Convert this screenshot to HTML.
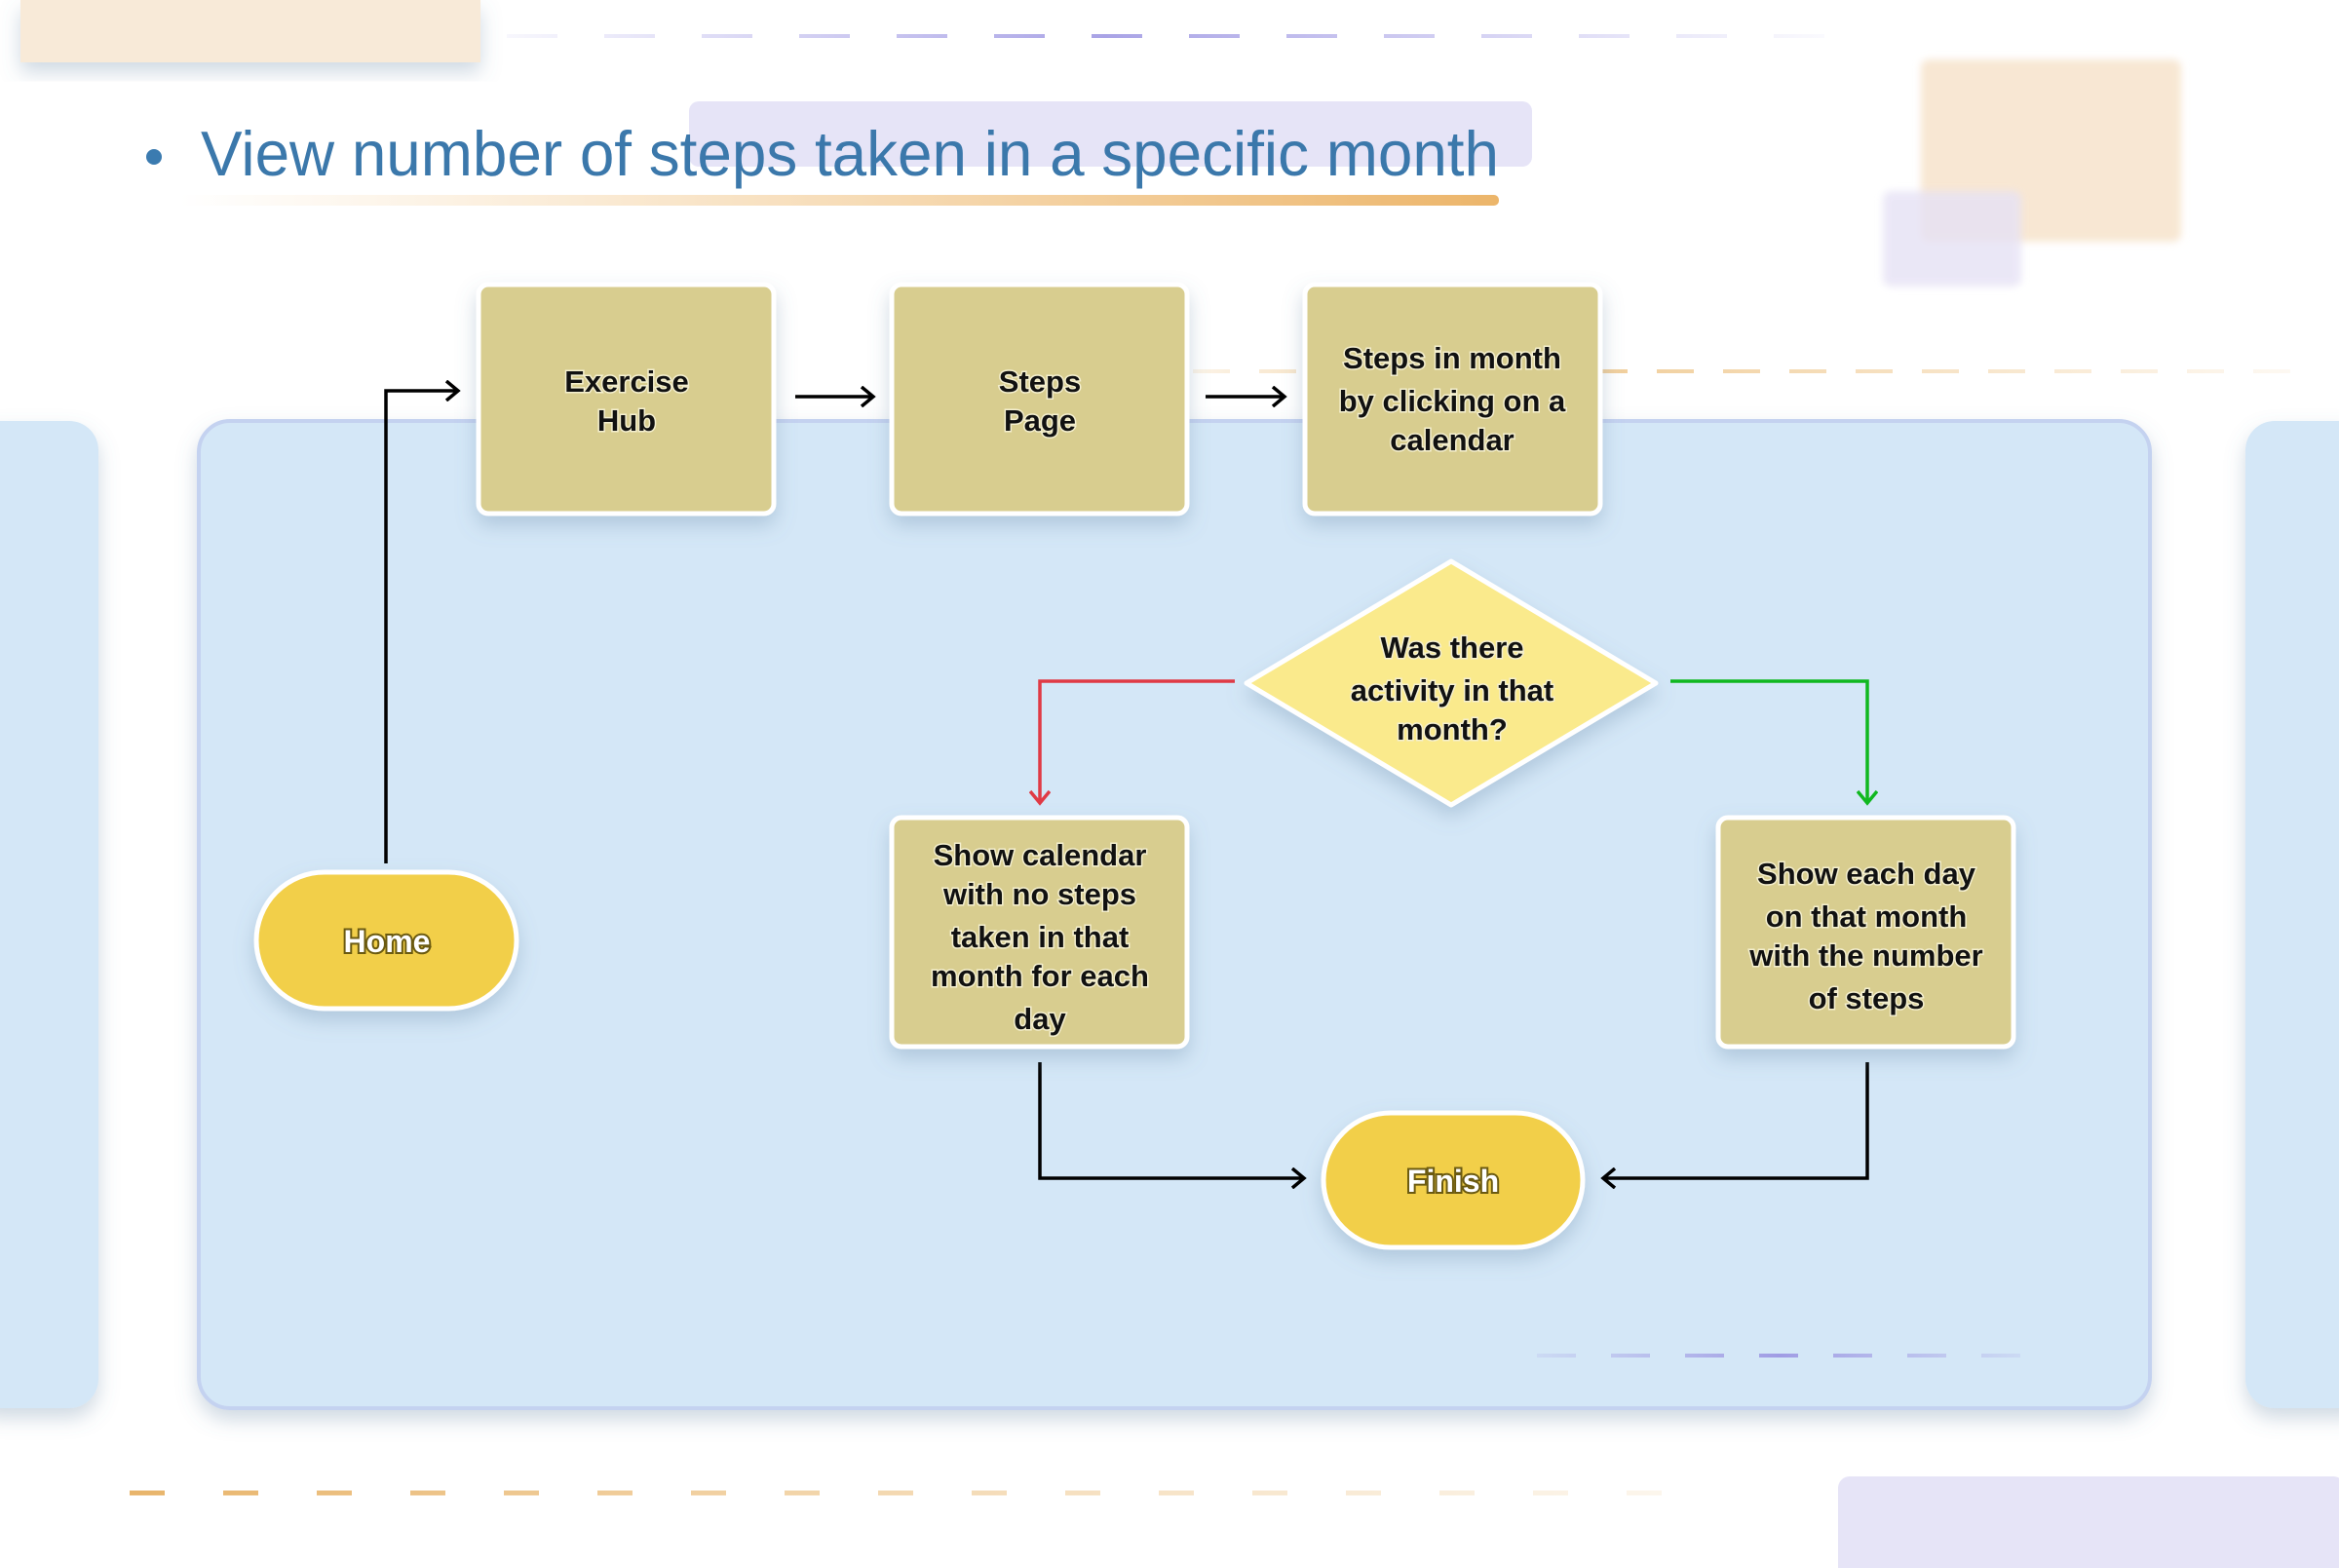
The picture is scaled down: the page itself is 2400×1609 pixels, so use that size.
<!DOCTYPE html>
<html><head><meta charset="utf-8"><style>
html,body{margin:0;padding:0;background:#fff;}
svg{display:block;}
.t{font-family:"Liberation Sans",sans-serif;font-size:31px;font-weight:bold;fill:#111;text-anchor:middle;paint-order:stroke;stroke:#f4efcf;stroke-width:3px;}
.w{font-family:"Liberation Sans",sans-serif;font-size:32px;font-weight:bold;fill:#fff;text-anchor:middle;paint-order:stroke;stroke:#6b5a10;stroke-width:4px;}
</style></head><body>
<svg width="2400" height="1609" viewBox="0 0 2400 1609" xmlns="http://www.w3.org/2000/svg">
<defs>
<filter id="sh" x="-20%" y="-20%" width="140%" height="150%"><feDropShadow dx="0" dy="10" stdDeviation="10" flood-color="#6080a0" flood-opacity="0.3"/></filter>
<filter id="bl" x="-20%" y="-20%" width="140%" height="140%"><feGaussianBlur stdDeviation="4"/></filter>
<linearGradient id="ug" x1="0" x2="1"><stop offset="0" stop-color="#f1c07a" stop-opacity="0"/><stop offset="1" stop-color="#ecb56a"/></linearGradient>
<linearGradient id="gp" gradientUnits="userSpaceOnUse" x1="520" x2="1883" y1="0" y2="0"><stop offset="0" stop-color="#b3aeea" stop-opacity="0.1"/><stop offset="0.45" stop-color="#a9a3e6" stop-opacity="1"/><stop offset="1" stop-color="#b3aeea" stop-opacity="0.05"/></linearGradient>
<linearGradient id="go" gradientUnits="userSpaceOnUse" x1="1224" x2="2357" y1="0" y2="0"><stop offset="0" stop-color="#eec486" stop-opacity="0.2"/><stop offset="0.3" stop-color="#eec486" stop-opacity="0.9"/><stop offset="1" stop-color="#eec486" stop-opacity="0.1"/></linearGradient>
<linearGradient id="gb" gradientUnits="userSpaceOnUse" x1="133" x2="1714" y1="0" y2="0"><stop offset="0" stop-color="#e8b46a" stop-opacity="1"/><stop offset="1" stop-color="#eec486" stop-opacity="0.15"/></linearGradient>
<linearGradient id="gq" gradientUnits="userSpaceOnUse" x1="1577" x2="2074" y1="0" y2="0"><stop offset="0" stop-color="#aaa6e6" stop-opacity="0.2"/><stop offset="0.5" stop-color="#a09ce4" stop-opacity="1"/><stop offset="1" stop-color="#aaa6e6" stop-opacity="0.2"/></linearGradient>
<marker id="ab" markerWidth="20" markerHeight="22" refX="14" refY="11" orient="auto" markerUnits="userSpaceOnUse"><path d="M2,1 L14,11 L2,21" fill="none" stroke="#000" stroke-width="3.5"/></marker>
<marker id="ar" markerWidth="20" markerHeight="22" refX="14" refY="11" orient="auto" markerUnits="userSpaceOnUse"><path d="M2,1 L14,11 L2,21" fill="none" stroke="#e03a45" stroke-width="3.5"/></marker>
<marker id="ag" markerWidth="20" markerHeight="22" refX="14" refY="11" orient="auto" markerUnits="userSpaceOnUse"><path d="M2,1 L14,11 L2,21" fill="none" stroke="#10b820" stroke-width="3.5"/></marker>
</defs>
<rect x="21" y="0" width="472" height="64" fill="#f8ead8" filter="url(#sh)"/>
<line x1="520" y1="37" x2="1883" y2="37" stroke="url(#gp)" stroke-width="4" stroke-dasharray="52 48"/>
<rect x="707" y="104" width="865" height="67" rx="10" fill="#e6e4f7"/>
<rect x="1971" y="61" width="267" height="187" rx="8" fill="#f8e7d3" filter="url(#bl)"/>
<rect x="1932" y="196" width="142" height="98" rx="8" fill="#e6e2f5" opacity="0.8" filter="url(#bl)"/>
<line x1="1224" y1="381" x2="2357" y2="381" stroke="url(#go)" stroke-width="4" stroke-dasharray="38 30"/>
<line x1="133" y1="1532" x2="1714" y2="1532" stroke="url(#gb)" stroke-width="5" stroke-dasharray="36 60"/>
<rect x="1886" y="1515" width="520" height="110" rx="12" fill="#e6e4f7"/>
<rect x="-30" y="432" width="131" height="1013" rx="30" fill="#d4e7f7" filter="url(#sh)"/>
<rect x="2304" y="432" width="130" height="1013" rx="30" fill="#d4e7f7" filter="url(#sh)"/>
<circle cx="158" cy="161" r="8" fill="#3b7bb0"/>
<text x="206" y="180" font-family="Liberation Sans, sans-serif" font-size="65" fill="#3b78ab" textLength="1332" lengthAdjust="spacingAndGlyphs">View number of steps taken in  a specific month</text>
<rect x="184" y="200" width="1354" height="11" rx="5" fill="url(#ug)"/>
<rect x="204" y="432" width="2002" height="1013" rx="32" fill="#d4e7f7" stroke="#c4d2f0" stroke-width="4" filter="url(#sh)"/>
<line x1="1577" y1="1391" x2="2074" y2="1391" stroke="url(#gq)" stroke-width="4" stroke-dasharray="40 36"/>
<path d="M396,886 V401 H470" fill="none" stroke="#000" stroke-width="3.5" marker-end="url(#ab)"/>
<path d="M816,407 H896" fill="none" stroke="#000" stroke-width="3.5" marker-end="url(#ab)"/>
<path d="M1237,407 H1318" fill="none" stroke="#000" stroke-width="3.5" marker-end="url(#ab)"/>
<path d="M1267,699 H1067 V824" fill="none" stroke="#e03a45" stroke-width="3.5" marker-end="url(#ar)"/>
<path d="M1714,699 H1916 V824" fill="none" stroke="#10b820" stroke-width="3.5" marker-end="url(#ag)"/>
<path d="M1067,1090 V1209 H1338" fill="none" stroke="#000" stroke-width="3.5" marker-end="url(#ab)"/>
<path d="M1916,1090 V1209 H1645" fill="none" stroke="#000" stroke-width="3.5" marker-end="url(#ab)"/>
<g filter="url(#sh)" fill="#d8cd8f" stroke="#fff" stroke-width="5">
<rect x="491" y="292" width="303" height="235" rx="10"/>
<rect x="915" y="292" width="303" height="235" rx="10"/>
<rect x="1339" y="292" width="303" height="235" rx="10"/>
<rect x="915" y="839" width="303" height="235" rx="10"/>
<rect x="1763" y="839" width="303" height="235" rx="10"/>
<path d="M1489,576 L1699,701 L1489,826 L1279,701 Z" fill="#faea8c" stroke-linejoin="round"/>
<rect x="263" y="895" width="267" height="140" rx="70" fill="#f2cf4a"/>
<rect x="1358" y="1142" width="266" height="138" rx="69" fill="#f2cf4a"/>
</g>
<text class="t" x="643" y="402">Exercise</text>
<text class="t" x="643" y="442">Hub</text>
<text class="t" x="1067" y="402">Steps</text>
<text class="t" x="1067" y="442">Page</text>
<text class="t" x="1490" y="378">Steps in month</text>
<text class="t" x="1490" y="422">by clicking on a</text>
<text class="t" x="1490" y="462">calendar</text>
<text class="t" x="1490" y="675">Was there</text>
<text class="t" x="1490" y="719">activity in that</text>
<text class="t" x="1490" y="759">month?</text>
<text class="t" x="1067" y="888">Show calendar</text>
<text class="t" x="1067" y="928">with no steps</text>
<text class="t" x="1067" y="972">taken in that</text>
<text class="t" x="1067" y="1012">month for each</text>
<text class="t" x="1067" y="1056">day</text>
<text class="t" x="1915" y="907">Show each day</text>
<text class="t" x="1915" y="951">on that month</text>
<text class="t" x="1915" y="991">with the number</text>
<text class="t" x="1915" y="1035">of steps</text>
<text class="w" x="397" y="977">Home</text>
<text class="w" x="1491" y="1223">Finish</text>
</svg>
</body></html>
